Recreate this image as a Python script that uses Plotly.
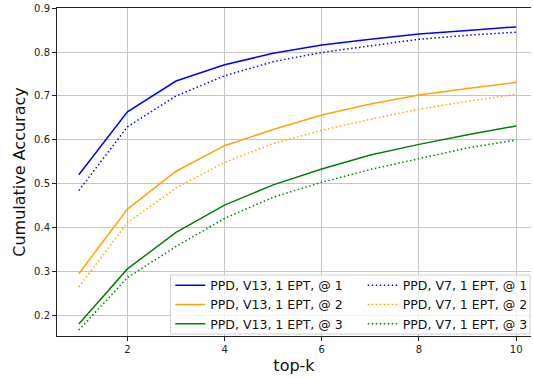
import plotly.graph_objects as go

top_k = [1, 2, 3, 4, 5, 6, 7, 8, 9, 10]

v13_at1 = [0.521, 0.664, 0.734, 0.771, 0.797, 0.816, 0.829, 0.841, 0.849, 0.857]
v13_at2 = [0.296, 0.443, 0.529, 0.587, 0.624, 0.657, 0.682, 0.702, 0.717, 0.731]
v13_at3 = [0.182, 0.307, 0.390, 0.452, 0.498, 0.534, 0.566, 0.590, 0.612, 0.632]

v7_at1 = [0.485, 0.630, 0.700, 0.746, 0.778, 0.799, 0.814, 0.829, 0.838, 0.845]
v7_at2 = [0.266, 0.412, 0.491, 0.549, 0.592, 0.622, 0.647, 0.670, 0.688, 0.704]
v7_at3 = [0.168, 0.287, 0.358, 0.422, 0.470, 0.504, 0.533, 0.558, 0.582, 0.600]

y_ticks = [0.2, 0.3, 0.4, 0.5, 0.6, 0.7, 0.8, 0.9]
x_ticks = [2, 4, 6, 8, 10]

DOT = "1.5px,2.5px"
series = [
    ("PPD, V13, 1 EPT, @ 1", v13_at1, "#0000ff", "solid", "legend"),
    ("PPD, V13, 1 EPT, @ 2", v13_at2, "#ffa500", "solid", "legend"),
    ("PPD, V13, 1 EPT, @ 3", v13_at3, "#008000", "solid", "legend"),
    ("PPD, V7, 1 EPT, @ 1", v7_at1, "#0000ff", DOT, "legend2"),
    ("PPD, V7, 1 EPT, @ 2", v7_at2, "#ffa500", DOT, "legend2"),
    ("PPD, V7, 1 EPT, @ 3", v7_at3, "#008000", DOT, "legend2"),
]

fig = go.Figure()
for name, vals, color, dash, leg in series:
    fig.add_trace(go.Scatter(
        x=top_k, y=vals, mode="lines", name=name, legend=leg,
        line=dict(color=color, width=1.5, dash=dash),
    ))

font = "DejaVu Sans"
legend_common = dict(
    orientation="v", yanchor="top", xanchor="left",
    bgcolor="rgba(0,0,0,0)", borderwidth=0,
    font=dict(family=font, size=12.5, color="#111"),
    tracegroupgap=0, itemwidth=30,
)

# legend frame (paper coordinates of the plot area)
fig.add_shape(
    type="rect", xref="paper", yref="paper",
    x0=0.2395, x1=0.998, y0=0.006, y1=0.186,
    fillcolor="rgba(255,255,255,0.8)", line=dict(color="#d0d0d0", width=1),
    layer="above",
)

fig.update_layout(
    width=533, height=378,
    margin=dict(l=57, r=0, t=8, b=42),
    plot_bgcolor="white", paper_bgcolor="white",
    font=dict(family=font, size=10, color="#222"),
    showlegend=True,
    legend=dict(x=0.239, y=0.199, **legend_common),
    legend2=dict(x=0.645, y=0.199, **legend_common),
    xaxis=dict(
        range=[0.551, 10.305], automargin=False,
        tickmode="array", tickvals=x_ticks,
        ticks="outside", ticklen=4, tickcolor="#222",
        showline=True, linecolor="#222", linewidth=1, mirror=True,
        showgrid=True, gridcolor="#c4c4c4", gridwidth=1,
        zeroline=False,
        title=dict(text="top-k", font=dict(family=font, size=16, color="#111"), standoff=5),
    ),
    yaxis=dict(
        range=[0.1545, 0.9], automargin=False,
        tickmode="array", tickvals=y_ticks, ticktext=[f"{v:.1f}" for v in y_ticks],
        ticks="outside", ticklen=4, tickcolor="#222",
        showline=True, linecolor="#222", linewidth=1,
        showgrid=True, gridcolor="#c4c4c4", gridwidth=1,
        zeroline=False,
        title=dict(text="Cumulative Accuracy", font=dict(family=font, size=16, color="#111"), standoff=4),
    ),
)

fig.write_html("out.html", config={"displayModeBar": False},
               post_script="document.body.style.margin='0';")
